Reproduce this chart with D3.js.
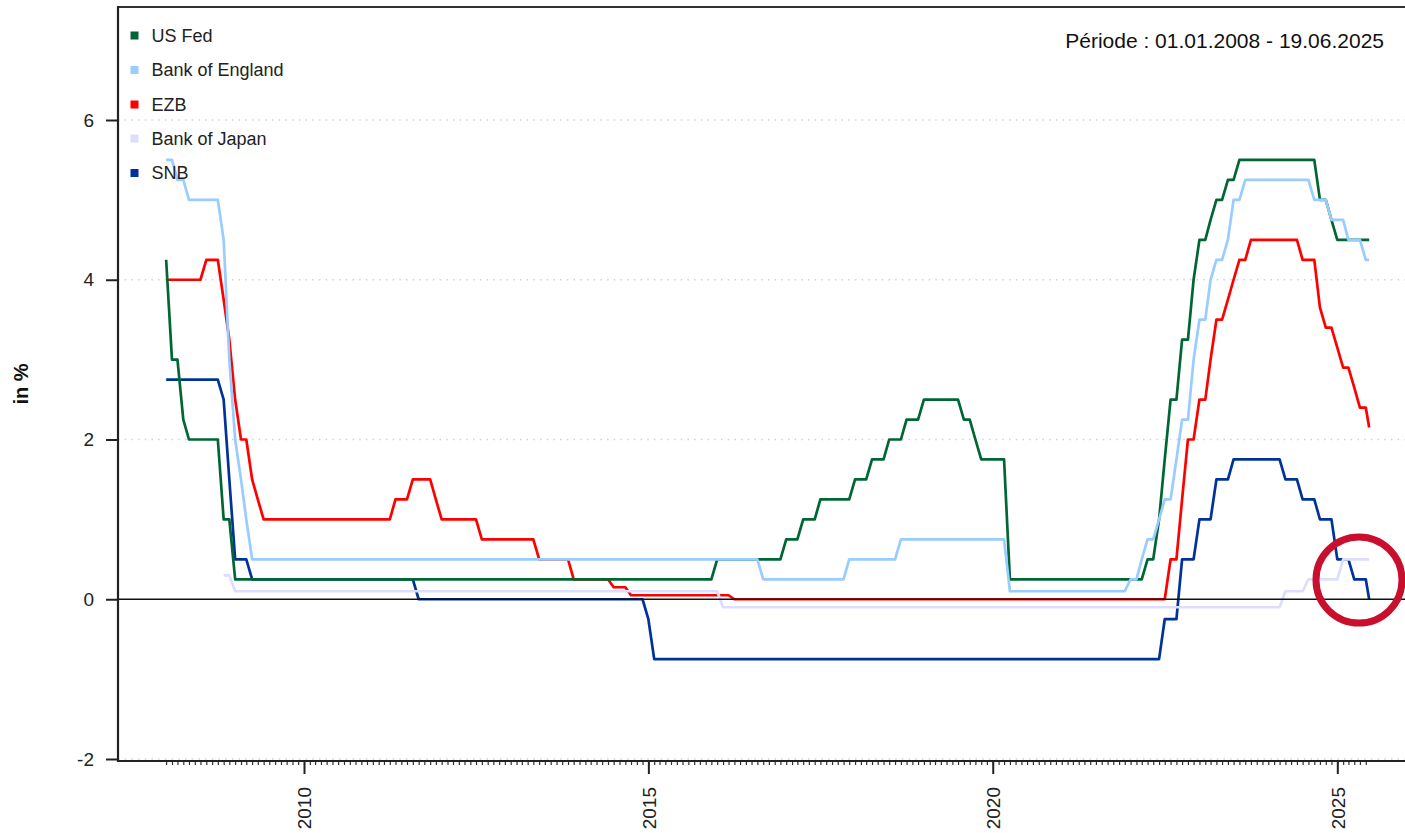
<!DOCTYPE html>
<html>
<head>
<meta charset="utf-8">
<script src="https://cdn.jsdelivr.net/npm/d3@7"></script>
<style>
  body { margin: 0; background: #fff; }
  svg { display: block; font-family: "Liberation Sans", Arial, sans-serif; }
</style>
</head>
<body>
<svg id="chart" width="1405" height="833"></svg>
<script>
// ---------------- DATA ----------------
const seriesNames  = ["US Fed", "Bank of England", "EZB", "Bank of Japan", "SNB"];
const seriesColors = ["#006633", "#99CCFF", "#FF0000", "#DDDDFF", "#003399"];

// Policy-rate change points [month (sample date), rate in %]
const fedChanges = [
  ["2008-01",4.25],["2008-02",3.0],["2008-04",2.25],["2008-05",2.0],["2008-11",1.0],["2009-01",0.25],
  ["2016-01",0.5],["2017-01",0.75],["2017-04",1.0],["2017-07",1.25],["2018-01",1.5],["2018-04",1.75],
  ["2018-07",2.0],["2018-10",2.25],["2019-01",2.5],["2019-08",2.25],["2019-10",2.0],["2019-11",1.75],
  ["2020-04",0.25],["2022-04",0.5],["2022-06",1.0],["2022-07",1.75],["2022-08",2.5],["2022-10",3.25],
  ["2022-12",4.0],["2023-01",4.5],["2023-03",4.75],["2023-04",5.0],["2023-06",5.25],["2023-08",5.5],
  ["2024-10",5.0],["2024-12",4.75],["2025-01",4.5]
];
const boeChanges = [
  ["2008-01",5.5],["2008-03",5.25],["2008-05",5.0],["2008-11",4.5],["2008-12",3.0],["2009-01",2.0],
  ["2009-02",1.5],["2009-03",1.0],["2009-04",0.5],["2016-09",0.25],["2017-12",0.5],["2018-09",0.75],
  ["2020-04",0.1],["2022-01",0.25],["2022-03",0.5],["2022-04",0.75],["2022-06",1.0],["2022-07",1.25],
  ["2022-09",1.75],["2022-10",2.25],["2022-12",3.0],["2023-01",3.5],["2023-03",4.0],["2023-04",4.25],
  ["2023-06",4.5],["2023-07",5.0],["2023-09",5.25],["2024-09",5.0],["2024-12",4.75],["2025-03",4.5],
  ["2025-06",4.25]
];
const ezbChanges = [
  ["2008-01",4.0],["2008-08",4.25],["2008-11",3.75],["2008-12",3.25],["2009-01",2.5],["2009-02",2.0],
  ["2009-04",1.5],["2009-05",1.25],["2009-06",1.0],["2011-05",1.25],["2011-08",1.5],["2011-12",1.25],
  ["2012-01",1.0],["2012-08",0.75],["2013-06",0.5],["2013-12",0.25],["2014-07",0.15],["2014-10",0.05],
  ["2016-04",0.0],["2022-08",0.5],["2022-10",1.25],["2022-11",2.0],["2023-01",2.5],["2023-03",3.0],
  ["2023-04",3.5],["2023-06",3.75],["2023-07",4.0],["2023-08",4.25],["2023-10",4.5],["2024-07",4.25],
  ["2024-10",3.65],["2024-11",3.4],["2025-01",3.15],["2025-02",2.9],["2025-04",2.65],["2025-05",2.4],
  ["2025-06-19",2.15]
];
const bojChanges = [
  ["2008-11",0.3],["2009-01",0.1],["2016-02",-0.1],["2024-04",0.1],["2024-08",0.25],["2025-02",0.5]
];
const snbChanges = [
  ["2008-01",2.75],["2008-11",2.5],["2008-12",1.5],["2009-01",0.5],["2009-04",0.25],["2011-09",0.0],
  ["2015-01",-0.25],["2015-02",-0.75],["2022-07",-0.25],["2022-10",0.5],["2023-01",1.0],["2023-04",1.5],
  ["2023-07",1.75],["2024-04",1.5],["2024-07",1.25],["2024-10",1.0],["2025-01",0.5],["2025-04",0.25],
  ["2025-06-19",0.0]
];
const seriesChanges = [fedChanges, boeChanges, ezbChanges, bojChanges, snbChanges];

const startDate = "2008-01-01";
const endDate   = "2025-06-19";
const yTickValues = [-2, 0, 2, 4, 6];
const gridValues  = [-2, 2, 4, 6];
const xTickYears  = [2010, 2015, 2020, 2025];
const yLabel = "in %";
const periodLabel = "Période : 01.01.2008 - 19.06.2025";
const drawOrder = [4, 2, 3, 0, 1]; // SNB, EZB, BoJ, Fed, BoE (later on top)

// ---------------- LAYOUT ----------------
const W = 1405, H = 833;
const frameLeft = 118, frameTop = 7, frameBottom = 761, frameRight = W;

const parseMonth = d3.timeParse("%Y-%m");
const parseDay = d3.timeParse("%Y-%m-%d");
const parse = s => parseDay(s) || parseMonth(s);

const x = d3.scaleTime()
  .domain([new Date(2010, 0, 1), new Date(2025, 0, 1)])
  .range([304, 1337.3]);
const y = d3.scaleLinear().domain([-2, 6]).range([759, 120]);

const svg = d3.select("#chart");

// gridlines (dotted)
svg.append("g").selectAll("line").data(gridValues).join("line")
  .attr("x1", frameLeft).attr("x2", frameRight)
  .attr("y1", d => y(d)).attr("y2", d => y(d))
  .attr("stroke", "#cfcfcf").attr("stroke-width", 1.3)
  .attr("stroke-dasharray", "1.4 5.3");

// build polyline vertices from change points (monthly sampled steps)
function vertices(changes) {
  const end = parse(endDate);
  const pts = [];
  changes.forEach(([ds, v], i) => {
    const d = parse(ds);
    if (i > 0) {
      const prevD = parse(changes[i - 1][0]);
      const prevSample = d.getDate() === 1 ? d3.timeMonth.offset(d, -1) : d3.timeMonth.floor(d);
      if (prevSample > prevD) pts.push([prevSample, changes[i - 1][1]]);
    }
    pts.push([d, v]);
  });
  const last = changes[changes.length - 1];
  if (parse(last[0]) < end) pts.push([end, last[1]]);
  return pts;
}

const line = d3.line().x(d => x(d[0])).y(d => y(d[1]));

const gSeries = svg.append("g").attr("fill", "none");
drawOrder.forEach(i => {
  gSeries.append("path")
    .datum(vertices(seriesChanges[i]))
    .attr("d", line)
    .attr("stroke", seriesColors[i])
    .attr("stroke-width", 2.7)
    .attr("stroke-linejoin", "round");
});

// zero line
svg.append("line")
  .attr("x1", frameLeft).attr("x2", frameRight)
  .attr("y1", y(0)).attr("y2", y(0))
  .attr("stroke", "#111").attr("stroke-width", 1.5);

// frame lines
svg.append("line").attr("x1", frameLeft).attr("x2", frameRight).attr("y1", frameTop).attr("y2", frameTop)
  .attr("stroke", "#333").attr("stroke-width", 2);

// y axis
const yAxis = svg.append("g").attr("transform", `translate(${frameLeft},0)`)
  .call(d3.axisLeft(y).tickValues(yTickValues).tickSize(12).tickPadding(12).tickFormat(d => String(d)));
yAxis.select(".domain").remove();
yAxis.selectAll(".tick line").attr("stroke", "#222").attr("stroke-width", 2);
yAxis.selectAll(".tick text").attr("font-size", 19).attr("fill", "#222")
  .attr("font-family", "Liberation Sans, Arial, sans-serif");
svg.append("line").attr("x1", frameLeft).attr("x2", frameLeft).attr("y1", frameTop - 1).attr("y2", frameBottom + 1)
  .attr("stroke", "#222").attr("stroke-width", 2.2);

// x axis minor ticks (monthly)
const minorTicks = d3.timeMonth.range(parse(startDate), d3.timeMonth.offset(d3.timeMonth.floor(parse(endDate)), 1));
const xMinor = svg.append("g").attr("transform", `translate(0,${frameBottom})`)
  .call(d3.axisBottom(x).tickValues(minorTicks).tickSize(4).tickFormat(""));
xMinor.select(".domain").remove();
xMinor.selectAll(".tick line").attr("stroke", "#333").attr("stroke-width", 1.2);

// x axis major ticks
const xAxis = svg.append("g").attr("transform", `translate(0,${frameBottom})`)
  .call(d3.axisBottom(x).tickValues(xTickYears.map(yr => new Date(yr, 0, 1))).tickSize(13)
    .tickFormat(d3.timeFormat("%Y")));
xAxis.select(".domain").remove();
xAxis.selectAll(".tick line").attr("stroke", "#222").attr("stroke-width", 2);
xAxis.selectAll(".tick text")
  .attr("font-size", 19).attr("fill", "#222")
  .attr("font-family", "Liberation Sans, Arial, sans-serif")
  .attr("transform", "rotate(-90)")
  .attr("x", -26).attr("y", 0).attr("dy", "0.36em")
  .attr("text-anchor", "end");

svg.append("line").attr("x1", frameLeft - 1).attr("x2", frameRight).attr("y1", frameBottom).attr("y2", frameBottom)
  .attr("stroke", "#222").attr("stroke-width", 2.2);

// y label
svg.append("text")
  .attr("transform", "translate(28,384) rotate(-90)")
  .attr("text-anchor", "middle")
  .attr("font-size", 20).attr("font-weight", "bold").attr("fill", "#111")
  .text(yLabel);

// legend
const legend = svg.append("g");
const legendY = [35.5, 70, 104.5, 138.5, 173];
seriesNames.forEach((name, i) => {
  legend.append("rect").attr("x", 130.5).attr("y", legendY[i] - 4).attr("width", 8).attr("height", 8)
    .attr("fill", seriesColors[i]);
  legend.append("text").attr("x", 151.5).attr("y", legendY[i]).attr("dy", "0.35em")
    .attr("font-size", 18).attr("fill", "#222").text(name);
});

// period label
svg.append("text").attr("x", 1384).attr("y", 48).attr("text-anchor", "end")
  .attr("font-size", 21).attr("fill", "#111").text(periodLabel);

// highlight circle annotation
svg.append("circle").attr("cx", 1359).attr("cy", 580).attr("r", 43)
  .attr("fill", "none").attr("stroke", "#C8102E").attr("stroke-width", 7);
</script>
</body>
</html>
